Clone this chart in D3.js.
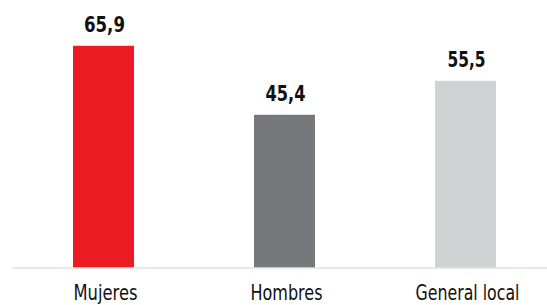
<!DOCTYPE html>
<html><head><meta charset="utf-8">
<script src="https://cdn.jsdelivr.net/npm/d3@7"></script>
<style>html,body{margin:0;padding:0;background:#fff;}svg{display:block;}</style>
</head><body>
<svg id="c" width="547" height="305"></svg>
<script>
const categories = ["Mujeres", "Hombres", "General local"];
const values = [65.9, 45.4, 55.5];
const valueLabels = ["65,9", "45,4", "55,5"];
const colors = ["#ED1C24", "#76787B", "#D1D2D3"];

const svg = d3.select("#c");
const W = 547, H = 305;
const x = d3.scaleBand().domain(categories).range([13, 556]).paddingInner(0.663).paddingOuter(0.3315);
const y = d3.scaleLinear().domain([0, 70]).range([267.5, 32]);
const font = "'Liberation Sans Narrow','DejaVu Sans Condensed','Roboto Condensed',sans-serif";

svg.selectAll("rect.bar").data(categories).join("rect")
  .attr("class","bar")
  .attr("x", d => x(d)).attr("width", x.bandwidth())
  .attr("y", (d,i) => y(values[i])).attr("height", (d,i) => y(0) - y(values[i]))
  .attr("fill", (d,i) => colors[i]);

svg.append("line").attr("x1", 12).attr("x2", W).attr("y1", y(0)+0.5).attr("y2", y(0)+0.5)
  .attr("stroke", "#d3d3d3").attr("stroke-width", 1);

const vW = [41, 40, 38];
svg.selectAll("text.val").data(categories).join("text")
  .attr("class","val")
  .attr("x", d => x(d) + x.bandwidth()/2 + 1)
  .attr("y", (d,i) => y(values[i]) - 13.5)
  .attr("text-anchor","middle")
  .attr("font-family", font).attr("font-weight","bold").attr("font-size", 22)
  .attr("fill","#111")
  .attr("textLength", (d,i) => vW[i]).attr("lengthAdjust","spacingAndGlyphs")
  .text((d,i) => valueLabels[i]);

const cW = [64, 72, 104];
const axis = d3.axisBottom(x).tickSize(0).tickPadding(0);
const g = svg.append("g").attr("transform", `translate(0,${y(0)})`).call(axis);
g.select(".domain").remove();
g.selectAll("text")
  .attr("y", 32).attr("dy", null)
  .attr("dx", 2)
  .attr("font-family", font).attr("font-size", 22)
  .attr("fill","#111")
  .attr("textLength", (d,i) => cW[i]).attr("lengthAdjust","spacingAndGlyphs");
</script>
</body></html>
